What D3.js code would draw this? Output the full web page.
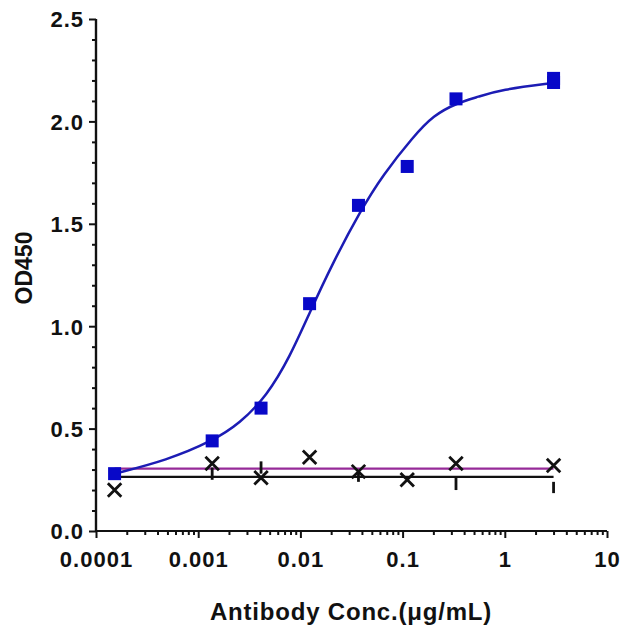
<!DOCTYPE html>
<html>
<head>
<meta charset="utf-8">
<script src="https://cdn.jsdelivr.net/npm/d3@7"></script>
<style>
    body { margin: 0; background: #fff; }
    svg text { font-family: "Liberation Sans", Arial, sans-serif; font-weight: bold; fill: #111; }
</style>
</head>
<body>
<svg class="chart" width="634" height="633"></svg>
<script>
// blue series (antibody binding)
var conc = [0.000152, 0.00137, 0.00412, 0.0123, 0.037, 0.111, 0.333, 3, 3];
var od = [0.28, 0.44, 0.60, 1.11, 1.59, 1.78, 2.11, 2.19, 2.21];

// fitted curve
var fitConc = [0.000152, 0.000491, 0.00139, 0.00255, 0.0047, 0.00789, 0.0124, 0.0208, 0.0383, 0.0644, 0.127, 0.2, 0.342, 0.55, 0.904, 3];
var fitOd = [0.28, 0.345, 0.44, 0.525, 0.66, 0.85, 1.07, 1.31, 1.56, 1.74, 1.925, 2.03, 2.09, 2.12, 2.155, 2.188];

// negative control (x markers)
var ctrlConc = [0.000152, 0.00137, 0.00412, 0.0123, 0.037, 0.111, 0.333, 3];
var ctrlOd = [0.20, 0.33, 0.26, 0.36, 0.29, 0.25, 0.33, 0.32];

// flat fits
var purpleLevel = 0.305;
var blackLevel = 0.264;
var flatRange = [0.000152, 3];

// stray error bars on the black line
var barConc = [0.00137, 0.00412, 0.037, 0.333, 3];
var barLow = [0.25, 0.28, 0.24, 0.20, 0.185];
var barHigh = [0.31, 0.34, 0.29, 0.26, 0.24];

var xTicks = [0.0001, 0.001, 0.01, 0.1, 1, 10];
var xTickLabels = ["0.0001", "0.001", "0.01", "0.1", "1", "10"];
var yTicks = [0, 0.5, 1.0, 1.5, 2.0, 2.5];

var svg = d3.select("svg.chart");

var x = d3.scaleLog()
    .domain([0.0001, 10])
    .range([96, 607]);
var y = d3.scaleLinear()
    .domain([0, 2.5])
    .range([531, 19]);

// minor ticks
var xMinor = [];
xTicks.slice(0, -1).forEach(function (t) {
    for (var k = 2; k <= 9; k++) {
        xMinor.push(t * k);
    }
});
var yMinor = d3.range(0, 2.51, 0.1).filter(function (v) {
    return Math.abs(v * 2 - Math.round(v * 2)) > 0.01;
});

// x axis
var xAxis = svg.append("g")
    .attr("transform", "translate(0," + y(0) + ")");
xAxis.call(d3.axisBottom(x)
    .tickValues(xMinor)
    .tickSize(4)
    .tickFormat(""));
xAxis.call(function (g) {
    g.append("g").call(d3.axisBottom(x)
        .tickValues(xTicks)
        .tickSize(7)
        .tickFormat(function (d, i) { return xTickLabels[i]; }));
});
xAxis.selectAll("path.domain").attr("stroke-width", 2.2).attr("d", "M" + x(0.0001) + ",0H" + x(10));
xAxis.selectAll(".tick line").attr("stroke", "#111").attr("stroke-width", 2);
xAxis.selectAll(".tick text")
    .attr("y", 36)
    .attr("dy", 0)
    .style("font-size", "22px")
    .style("letter-spacing", "1px");

// y axis
var yAxis = svg.append("g")
    .attr("transform", "translate(" + x(0.0001) + ",0)");
yAxis.call(d3.axisLeft(y)
    .tickValues(yMinor)
    .tickSize(4)
    .tickFormat(""));
yAxis.call(function (g) {
    g.append("g").call(d3.axisLeft(y)
        .tickValues(yTicks)
        .tickSize(7)
        .tickFormat(d3.format(".1f")));
});
yAxis.selectAll("path.domain").attr("stroke-width", 2.2).attr("d", "M0," + y(0) + "V" + y(2.5));
yAxis.selectAll(".tick line").attr("stroke", "#111").attr("stroke-width", 2);
yAxis.selectAll(".tick text")
    .attr("x", -12)
    .attr("dy", "0.36em")
    .style("font-size", "22px")
    .style("letter-spacing", "1px");
svg.selectAll("path.domain").attr("stroke", "#111");

// flat lines
svg.append("line")
    .attr("x1", x(flatRange[0]))
    .attr("x2", x(flatRange[1]))
    .attr("y1", y(blackLevel))
    .attr("y2", y(blackLevel))
    .attr("stroke", "#111")
    .attr("stroke-width", 2.2);
svg.append("line")
    .attr("x1", x(flatRange[0]))
    .attr("x2", x(flatRange[1]))
    .attr("y1", y(purpleLevel))
    .attr("y2", y(purpleLevel))
    .attr("stroke", "#962a98")
    .attr("stroke-width", 2.2);

// error bars
svg.selectAll("line.bar")
    .data(barConc)
    .enter()
    .append("line")
    .classed("bar", true)
    .attr("x1", function (d) { return x(d); })
    .attr("x2", function (d) { return x(d); })
    .attr("y1", function (d, i) { return y(barLow[i]); })
    .attr("y2", function (d, i) { return y(barHigh[i]); })
    .attr("stroke", "#111")
    .attr("stroke-width", 2.8);

// control x markers
var cross = d3.symbol().type(d3.symbolX).size(120);
svg.selectAll("path.ctrl")
    .data(ctrlConc)
    .enter()
    .append("path")
    .classed("ctrl", true)
    .attr("d", cross)
    .attr("transform", function (d, i) {
        return "translate(" + x(d) + "," + y(ctrlOd[i]) + ")";
    })
    .attr("fill", "none")
    .attr("stroke", "#111")
    .attr("stroke-width", 2.8);

// fitted curve
var line = d3.line()
    .x(function (d, i) { return x(fitConc[i]); })
    .y(function (d, i) { return y(fitOd[i]); })
    .curve(d3.curveBasis);
svg.append("path")
    .attr("d", line(fitConc))
    .attr("fill", "none")
    .attr("stroke", "#1c1cb4")
    .attr("stroke-width", 2.5);

// blue squares
var sq = 13;
svg.selectAll("rect.pt")
    .data(conc)
    .enter()
    .append("rect")
    .classed("pt", true)
    .attr("x", function (d) { return x(d) - sq / 2; })
    .attr("y", function (d, i) { return y(od[i]) - sq / 2; })
    .attr("width", sq)
    .attr("height", sq)
    .attr("fill", "#0808c8");

// axis titles
svg.append("text")
    .attr("x", 351)
    .attr("y", 620)
    .attr("text-anchor", "middle")
    .style("font-size", "24px")
    .style("letter-spacing", "0.8px")
    .text("Antibody Conc.(μg/mL)");
svg.append("text")
    .attr("transform", "translate(32,268) rotate(-90)")
    .attr("text-anchor", "middle")
    .style("font-size", "23px")
    .text("OD450");
</script>
</body>
</html>
